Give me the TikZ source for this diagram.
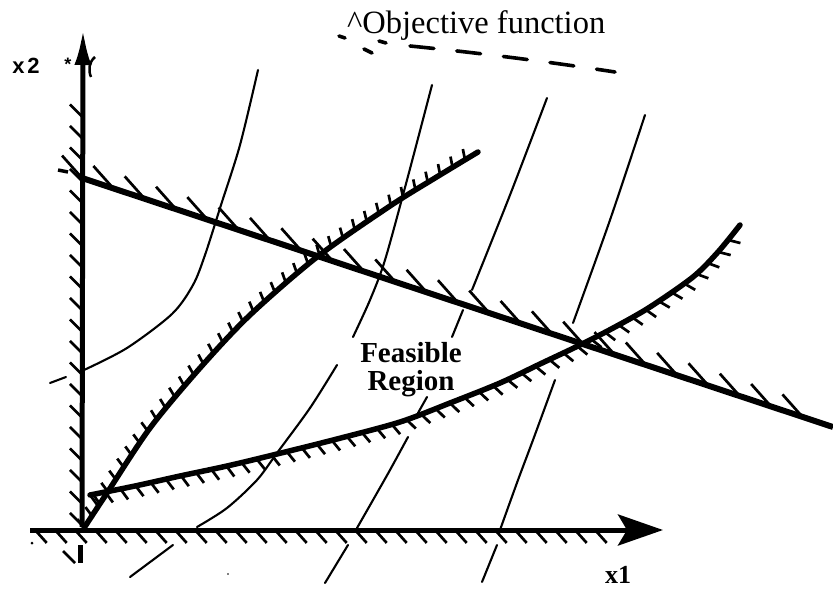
\documentclass[tikz,border=0pt]{standalone}
\usepackage{fontspec}
\setmainfont{Liberation Serif}
\newfontfamily\sansfam{Liberation Sans}
\usetikzlibrary{decorations.pathreplacing,arrows.meta}
\begin{document}
\begin{tikzpicture}[x=1pt,y=-1pt,
  axisline/.style={line width=5pt},
  bound/.style={line width=5.5pt,line cap=round},
  level/.style={line width=2.1pt,line cap=round},
  hatching/.style n args={3}{line width=2.7pt,decorate,
     decoration={border,segment length=#1,amplitude=#2,angle=#3}},
  mhatching/.style n args={3}{line width=2.7pt,decorate,
     decoration={border,segment length=#1,amplitude=#2,angle=#3,mirror}},
  dashpart/.style={line width=3.6pt,line cap=round},
  lbl/.style={inner sep=0pt}
]
\useasboundingbox (0,0) rectangle (833,591);

% named points
\coordinate (O) at (82,530);
\coordinate (Ybot) at (82,527);
\coordinate (Ytop) at (83,29);
\coordinate (Xleft) at (30,530);
\coordinate (Xtip) at (663,530);
\coordinate (HxA) at (36,531);
\coordinate (HxB) at (617,531);
\coordinate (HyA) at (82,525);
\coordinate (HyB) at (82,82);
\coordinate (LA) at (82,178);
\coordinate (LB) at (833,427);

% ---------- objective level curves (thin) ----------
\draw[level] plot[smooth] coordinates {(258,70) (240,145) (221,205) (205,255) (193,285) (172,314) (127,348) (84,370)};
\draw[level] (50,383) -- (66,377);

\draw[level] plot[smooth] coordinates {(432,85) (407,180) (385,260) (370,300) (353,337)};
\draw[level] plot[smooth] coordinates {(337,365) (310,408) (277,453) (257,480) (227,508) (197,527)};
\draw[level] (173,545) -- (130,577);

\draw[level] plot[smooth] coordinates {(547,98) (510,195) (472,290)};
\draw[level] (463,310) -- (452,337);
\draw[level] (427,397) -- (418,413);
\draw[level] plot[smooth] coordinates {(408,437) (390,470) (373,500) (357,528)};
\draw[level] (348,545) -- (325,583);

\draw[level] plot[smooth] coordinates {(645,115) (610,220) (573,323)};
\draw[level] plot[smooth] coordinates {(555,380) (533,440) (518,480) (500,530)};
\draw[level] (497,545) -- (482,582);

% ---------- axes ----------
\draw[axisline,-{Latex[length=36pt,width=17pt]}] (Ybot) -- (Ytop);
\draw[axisline,-{Stealth[length=45pt,width=31pt,inset=9pt]}] (Xleft) -- (Xtip);
\draw[hatching={21.5pt}{17pt}{45}] (HyA) -- (HyB);
\draw[mhatching={20pt}{16pt}{48}] (HxA) -- (HxB);
\draw[line width=5pt] (80,545) -- (80,563);
\draw[line width=2.7pt] (63,551) -- (75,563);
\fill (32,543) circle (1.5pt);
\fill (228,574) circle (0.8pt);

% ---------- straight constraint ----------
\draw[line width=6pt] (LA) -- (LB);
\draw[hatching={33pt}{30pt}{150}] (LA) -- (LB);
\draw[line width=3.5pt] (58,170) -- (68,172);

% ---------- concave constraint ----------
\draw[bound] plot[smooth] coordinates {(84,528) (107,493) (150,428) (200,368) (250,315) (317,257) (390,206) (435,178) (478,152)};
\draw[hatching={14.5pt}{11pt}{70}] plot coordinates {(84,528) (107,493) (128,461) (150,428) (175,397) (200,368) (225,341) (250,315) (283,285) (317,257) (353,231) (390,206) (435,178) (478,152)};

% ---------- convex constraint ----------
\draw[bound] plot[smooth] coordinates {(90,495) (135,486) (180,476) (227,466) (273,455) (337,439) (400,422) (450,403) (500,383) (540,364) (580,345) (615,327) (650,307) (693,277) (718,252) (740,225)};
\draw[mhatching={15.5pt}{13pt}{65}] plot coordinates {(90,495) (135,486) (180,476) (227,466) (273,455) (337,439) (400,422) (450,403) (500,383) (540,364) (580,345) (615,327) (650,307) (693,277) (718,252) (740,225)};

% ---------- objective function dashed marker ----------
\draw[dashpart] (339,36) -- (345,38);
\draw[dashpart] (364,49) -- (372,53);
\draw[dashpart] (379,41) -- (386,43);
\draw[dashpart,dash pattern=on 24pt off 23pt] (410,46) .. controls (480,53) and (550,62) .. (615,72);

% ---------- labels ----------
\node[lbl,anchor=base west,font=\fontsize{32.5}{36}\selectfont] (obj) at (347,34) {\textasciicircum Objective function};
\node[lbl,font=\sansfam\bfseries\fontsize{22}{26}\selectfont] (lx2) at (26,66) {x\kern3pt 2};
\node[lbl,font=\sansfam\bfseries\fontsize{18}{20}\selectfont] (star) at (68,64) {*};
\draw[line width=2.5pt] (95,57) .. controls (89,62) and (88,70) .. (91,77);
\node[lbl,font=\bfseries\fontsize{26}{30}\selectfont] (lx1) at (618,575) {x1};
\node[lbl,align=center,font=\bfseries\fontsize{29}{28}\selectfont] (feas) at (411,370) {Feasible\\Region};
\end{tikzpicture}
\end{document}
